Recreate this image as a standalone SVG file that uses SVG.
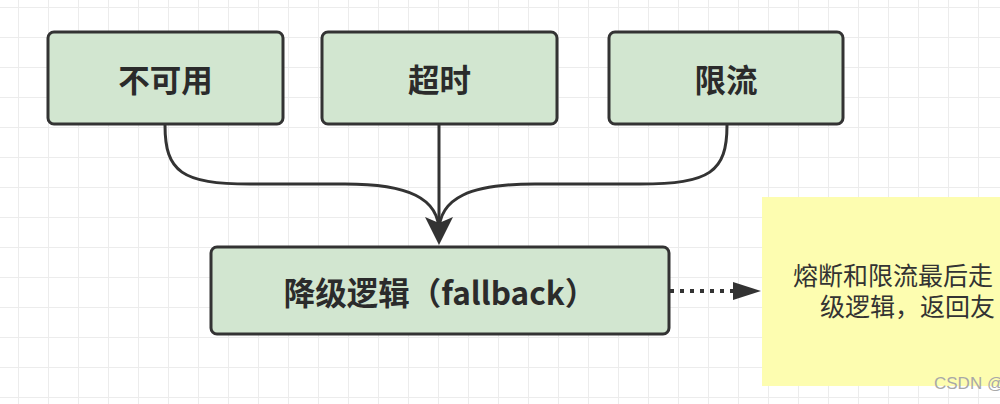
<svg xmlns="http://www.w3.org/2000/svg" width="1000" height="404" viewBox="0 0 1000 404">
  <defs>
    <pattern id="grid" x="18" y="7" width="30" height="30" patternUnits="userSpaceOnUse">
      <path d="M0,0 H30 M0,0 V30" fill="none" stroke="#ececec" stroke-width="2"/>
    </pattern>
    <style>
      .box { fill: #d2e6d0; stroke: #333333; stroke-width: 3; }
      .label { font-family: "Noto Sans CJK SC", "Noto Sans", sans-serif; font-weight: bold; font-size: 31.5px; fill: #2b2b2b; text-anchor: middle; dominant-baseline: central; }
      .edge { fill: none; stroke: #333333; stroke-width: 3; }
      .dotted { fill: none; stroke: #333333; stroke-width: 4; stroke-dasharray: 4 6; }
      .head { fill: #333333; }
      .note { fill: #fdfdb0; }
      .notetext { font-family: "Noto Sans CJK SC", "Noto Sans", sans-serif; font-size: 25px; fill: #333333; }
    </style>
  </defs>

  <rect width="1000" height="404" fill="#ffffff"/>
  <rect width="1000" height="404" fill="url(#grid)"/>

  <g id="connectors">
    <path class="edge" d="M165,125 C165,172 182,184 250,184 L345,184 C408,184 439,198 439,232"/>
    <path class="edge" d="M439,125 L439,232"/>
    <path class="edge" d="M727,125 C727,172 710,184 640,184 L535,184 C470,184 439,198 439,232"/>
    <path class="head" d="M425,217 L439,245 L453,217 L439,223 Z"/>
    <path class="dotted" d="M670,291 L740,291"/>
    <path class="head" d="M733,282 L761,291 L733,300 Z"/>
  </g>

  <g id="node-unavailable">
    <rect class="box" x="48" y="32" width="235" height="92" rx="6"/>
    <text class="label" x="165.5" y="78">不可用</text>
  </g>
  <g id="node-timeout">
    <rect class="box" x="322" y="32" width="235" height="92" rx="6"/>
    <text class="label" x="439.5" y="78">超时</text>
  </g>
  <g id="node-ratelimit">
    <rect class="box" x="609" y="32" width="234" height="92" rx="6"/>
    <text class="label" x="726" y="78">限流</text>
  </g>
  <g id="node-fallback">
    <rect class="box" x="211" y="247" width="458" height="87" rx="6"/>
    <text class="label" x="440" y="291">降级逻辑（fallback）</text>
  </g>
  <g id="node-note">
    <rect class="note" x="762" y="197" width="260" height="189"/>
    <text class="notetext" x="793" y="285">熔断和限流最后走</text>
    <text class="notetext" x="820" y="316">级逻辑，返回友</text>
    <text x="934" y="389" font-family="Liberation Sans, Arial, sans-serif" font-size="17" fill="#a8a8a8">CSDN @</text>
  </g>
</svg>
